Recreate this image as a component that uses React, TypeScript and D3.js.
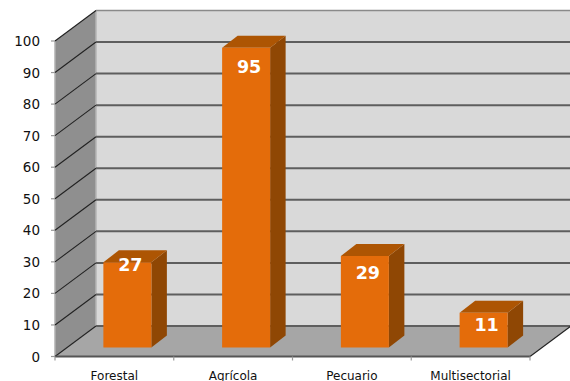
import React from "react";
import * as d3 from "d3";

const categories = ["Forestal", "Agrícola", "Pecuario", "Multisectorial"];
const values = [27, 95, 29, 11];
const ticks = [0, 10, 20, 30, 40, 50, 60, 70, 80, 90, 100];

const width = 570;
const height = 381;
const depthX = 41;
const depthY = -30.5;
const barDepthX = 15.5;
const barDepthY = -12;
const floorInset = 9;

const x = d3.scaleBand<string>().domain(categories).range([55, 530]);
const y = d3.scaleLinear().domain([0, 100]).range([356.5, 41]);
const barH = d3.scaleLinear().domain([0, 100]).range([0, 315.5]);

// Vertical distance from the top of each bar's front face to the centre of its value label
const labelDrop = [3, 19, 17, 12];

const font = "'DejaVu Sans', sans-serif";

const poly = (pts: [number, number][]) => pts.map((p) => p.join(",")).join(" ");

export default function App() {
  const left = x.range()[0];
  const right = x.range()[1];
  const y0 = y(0);
  const yTop = y(100);
  const bw = 48;
  const barBottom = y0 - floorInset;

  return (
    <svg
      width={width}
      height={height}
      style={{ position: "absolute", left: 0, top: 0, background: "#fff" }}
    >
      {/* back wall */}
      <rect
        x={left + depthX}
        y={yTop + depthY}
        width={right - left}
        height={y0 - yTop}
        fill="#d9d9d9"
      />
      {/* side wall */}
      <polygon
        points={poly([
          [left, yTop],
          [left + depthX, yTop + depthY],
          [left + depthX, y0 + depthY],
          [left, y0],
        ])}
        fill="#8f8f8f"
      />
      {/* floor */}
      <polygon
        points={poly([
          [left, y0],
          [left + depthX, y0 + depthY],
          [right + depthX, y0 + depthY],
          [right, y0],
        ])}
        fill="#a6a6a6"
      />
      <line x1={left + depthX} x2={left + depthX} y1={yTop + depthY} y2={y0 + depthY} stroke="#b5b5b5" strokeWidth={1.5} />
      <line x1={left} x2={left} y1={yTop} y2={y0} stroke="#b0b0b0" strokeWidth={1.5} />

      {/* gridlines along both walls */}
      {ticks.map((t) => (
        <g key={t}>
          <line
            x1={left}
            y1={y(t)}
            x2={left + depthX}
            y2={y(t) + depthY}
            stroke="#222"
            strokeWidth={1.1}
          />
          <line
            x1={left + depthX}
            y1={y(t) + depthY}
            x2={right + depthX}
            y2={y(t) + depthY}
            stroke={t === 100 ? "#8a8a8a" : "#5e5e5e"}
            strokeWidth={t === 100 ? 1.5 : 2}
          />
          <line x1={left - 4} x2={left} y1={y(t)} y2={y(t)} stroke="#999" strokeWidth={1.2} />
          <text
            x={40}
            y={y(t)}
            textAnchor="end"
            dominantBaseline="central"
            fontFamily={font}
            fontSize={13.5}
            fill="#111"
          >
            {t}
          </text>
        </g>
      ))}

      {/* floor front and right edges */}
      <line x1={left} x2={right} y1={y0} y2={y0} stroke="#555" strokeWidth={2} />
      <line x1={right} y1={y0} x2={right + depthX} y2={y0 + depthY} stroke="#222" strokeWidth={1.1} />

      {/* category ticks */}
      {categories.map((c) => (
        <line key={c} x1={x(c)!} x2={x(c)!} y1={y0} y2={y0 + 4} stroke="#999" strokeWidth={1.2} />
      ))}
      <line x1={right} x2={right} y1={y0} y2={y0 + 4} stroke="#999" strokeWidth={1.2} />

      {/* bars */}
      {categories.map((c, i) => {
        const bx = x(c)! + x.bandwidth() / 2 + 13 - bw / 2;
        const top = barBottom - barH(values[i]);
        return (
          <g key={c}>
            <polygon
              points={poly([
                [bx + bw, barBottom],
                [bx + bw + barDepthX, barBottom + barDepthY],
                [bx + bw + barDepthX, top + barDepthY],
                [bx + bw, top],
              ])}
              fill="#8f4704"
            />
            <polygon
              points={poly([
                [bx, top],
                [bx + barDepthX, top + barDepthY],
                [bx + bw + barDepthX, top + barDepthY],
                [bx + bw, top],
              ])}
              fill="#ad5503"
            />
            <rect x={bx} y={top} width={bw} height={barBottom - top} fill="#e46c0a" />
            <text
              x={bx + bw / 2 + 3}
              y={top + labelDrop[i]}
              textAnchor="middle"
              dominantBaseline="central"
              fontFamily={font}
              fontWeight="bold"
              fontSize={17.5}
              fill="#fff"
            >
              {values[i]}
            </text>
          </g>
        );
      })}

      {/* category labels */}
      {categories.map((c) => (
        <text
          key={c}
          x={x(c)! + x.bandwidth() / 2}
          y={379.5}
          textAnchor="middle"
          fontFamily={font}
          fontSize={12}
          fill="#111"
        >
          {c}
        </text>
      ))}
    </svg>
  );
}
